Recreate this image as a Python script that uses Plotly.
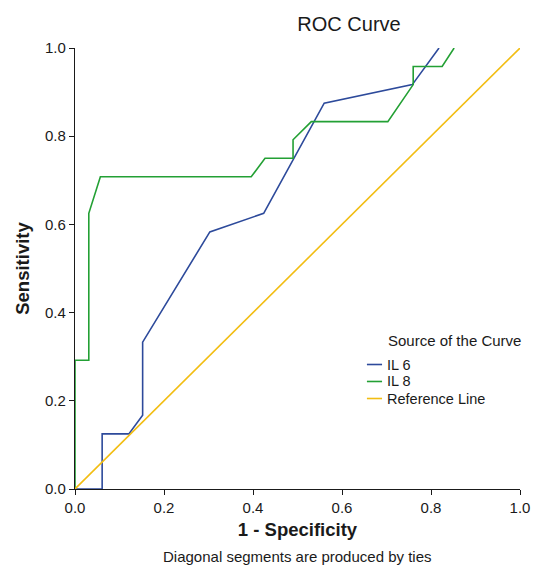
import plotly.graph_objects as go

# IL 6 ROC curve (1 - specificity, sensitivity)
il6_fpr = [0.0, 0.061, 0.061, 0.121, 0.152, 0.152, 0.303, 0.424, 0.560, 0.758, 0.818]
il6_tpr = [0.0, 0.0, 0.125, 0.125, 0.167, 0.333, 0.583, 0.625, 0.875, 0.917, 1.0]

# IL 8 ROC curve
il8_fpr = [0.0, 0.0, 0.031, 0.031, 0.057, 0.396, 0.427, 0.490, 0.490, 0.531, 0.703, 0.760, 0.760, 0.825, 0.852]
il8_tpr = [0.0, 0.292, 0.292, 0.625, 0.708, 0.708, 0.750, 0.750, 0.792, 0.833, 0.833, 0.917, 0.958, 0.958, 1.0]

# Reference line
ref_x = [0.0, 1.0]
ref_y = [0.0, 1.0]

series_names = ["IL 6", "IL 8", "Reference Line"]
legend_title = "Source of the Curve"

tick_vals = [0.0, 0.2, 0.4, 0.6, 0.8, 1.0]
tick_text = ["0.0", "0.2", "0.4", "0.6", "0.8", "1.0"]

BLUE = "#2d4a9b"
GREEN = "#23a034"
YELLOW = "#f2bd12"
COLORS = [BLUE, GREEN, YELLOW]
FONT = "Liberation Sans, Arial, sans-serif"
INK = "#1a1a1a"

fig = go.Figure()
for xs, ys, name, col in zip([il6_fpr, il8_fpr, ref_x], [il6_tpr, il8_tpr, ref_y], series_names, COLORS):
    fig.add_trace(go.Scatter(x=xs, y=ys, mode="lines", name=name, showlegend=False,
                             line=dict(color=col, width=1.6), cliponaxis=False))

axis_common = dict(range=[0, 1], tickvals=tick_vals, ticktext=tick_text,
                   showgrid=False, zeroline=False, showline=True, automargin=False,
                   linecolor=INK, linewidth=1.2, ticks="outside",
                   ticklen=5, tickcolor=INK,
                   tickfont=dict(family=FONT, size=15, color=INK))

# manual legend (compact, like the original)
annotations = [dict(text=legend_title, xref="paper", yref="paper", x=0.698, y=0.337,
                    xanchor="left", yanchor="middle", showarrow=False,
                    font=dict(family=FONT, size=15, color=INK))]
shapes = []
item_y = [0.2823, 0.2438, 0.2052]
for name, col, yy in zip(series_names, COLORS, item_y):
    annotations.append(dict(text=name, xref="paper", yref="paper", x=0.696, y=yy,
                            xanchor="left", yanchor="middle", showarrow=False,
                            font=dict(family=FONT, size=14.5, color=INK)))
    shapes.append(dict(type="line", xref="paper", yref="paper", x0=0.656, x1=0.690,
                       y0=yy, y1=yy, line=dict(color=col, width=1.6)))

annotations.append(dict(text="Diagonal segments are produced by ties", xref="paper", yref="paper",
                        x=0.5, y=-0.152, xanchor="center", yanchor="middle", showarrow=False,
                        font=dict(family=FONT, size=15, color=INK)))

fig.update_layout(
    width=547, height=583,
    margin=dict(l=67, r=35, t=40, b=102),
    paper_bgcolor="white", plot_bgcolor="white",
    font=dict(family=FONT, color=INK),
    title=dict(text="ROC Curve", x=0.6234, xanchor="center", y=0.9717, yanchor="middle",
               font=dict(family=FONT, size=20, color=INK)),
    xaxis=dict(**axis_common,
               title=dict(text="<b>1 - Specificity</b>", font=dict(family=FONT, size=18.5, color=INK), standoff=7)),
    yaxis=dict(**axis_common,
               title=dict(text="<b>Sensitivity</b>", font=dict(family=FONT, size=18.5, color=INK), standoff=10)),
    showlegend=False,
    annotations=annotations,
    shapes=shapes,
)

fig.write_html("out.html")
